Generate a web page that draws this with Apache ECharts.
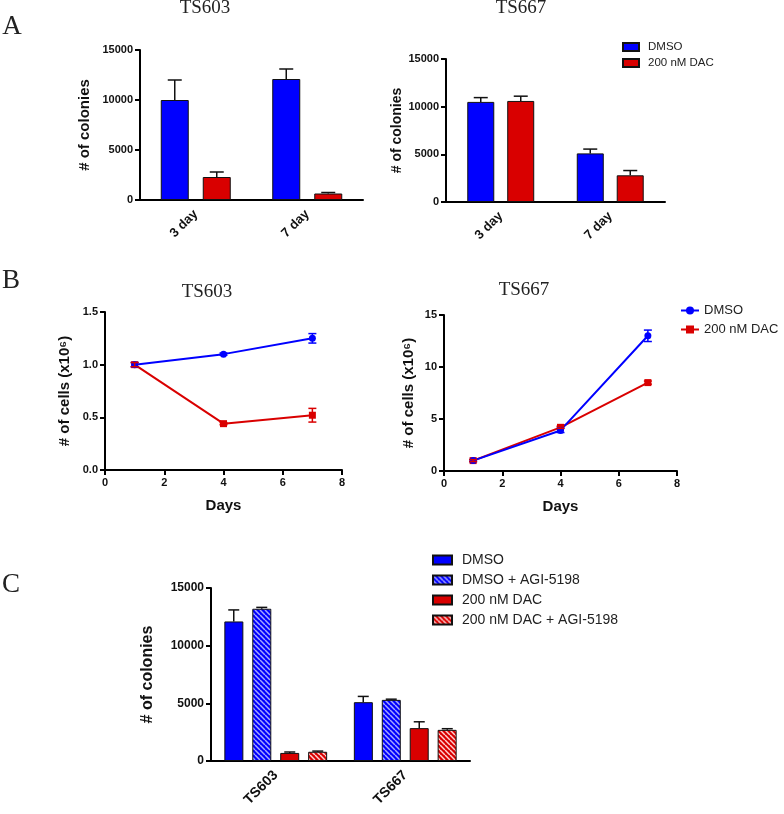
<!DOCTYPE html>
<html lang="en">
<head>
<meta charset="UTF-8">
<title>Colonies and cell counts</title>
<script src="https://cdn.jsdelivr.net/npm/echarts@6/dist/echarts.min.js"></script>
<style>
    body { margin: 0; background: #fff; }
    .panel { position: absolute; left: 0; top: 0; width: 784px; height: 814px; }
</style>
</head>
<body>
<div id="chartA" class="panel"></div>
<div id="chartB" class="panel"></div>
<div id="chartC" class="panel"></div>
<script>
    // ---- data ----
    var daysA = ['3 day', '7 day'];
    var ts603DmsoCol = [10000, 12100];
    var ts603DmsoColErr = [2000, 1000];
    var ts603DacCol = [2300, 650];
    var ts603DacColErr = [500, 100];
    var ts667DmsoCol = [10500, 5100];
    var ts667DmsoColErr = [450, 450];
    var ts667DacCol = [10600, 2800];
    var ts667DacColErr = [500, 500];

    var days = [1, 4, 7];
    var ts603DmsoCells = [1.0, 1.1, 1.25];
    var ts603DmsoCellsErr = [0.02, 0.01, 0.045];
    var ts603DacCells = [1.0, 0.44, 0.52];
    var ts603DacCellsErr = [0.02, 0.01, 0.065];
    var ts667DmsoCells = [1.0, 3.9, 13.0];
    var ts667DmsoCellsErr = [0.1, 0.2, 0.55];
    var ts667DacCells = [1.0, 4.2, 8.5];
    var ts667DacCellsErr = [0.1, 0.1, 0.15];

    var linesC = ['TS603', 'TS667'];
    var dmsoC = [12100, 5100];
    var dmsoCErr = [1000, 500];
    var dmsoAgiC = [13200, 5300];
    var dmsoAgiCErr = [120, 60];
    var dacC = [700, 2850];
    var dacCErr = [80, 550];
    var dacAgiC = [800, 2700];
    var dacAgiCErr = [60, 100];

    var colonyTicks = [0, 15000, 5000];   // min, max, interval

    // ---- styles ----
    var BLUE = '#0000ff';
    var RED = '#d90000';
    var SANS = 'Liberation Sans';
    var SERIF = 'Liberation Serif';

    function hatch(bg, fg) {
        var c = document.createElement('canvas');
        c.width = c.height = 5;
        var g = c.getContext('2d');
        g.fillStyle = bg;
        g.fillRect(0, 0, 5, 5);
        g.strokeStyle = fg;
        g.lineWidth = 1.5;
        for (var k = -1; k <= 1; k++) {
            g.beginPath();
            g.moveTo(k * 5, 0);
            g.lineTo(k * 5 + 5, 5);
            g.stroke();
        }
        return { image: c, repeat: 'repeat' };
    }

    function text(str, x, y, font) {
        return {
            type: 'text', x: x, y: y, silent: true,
            style: { text: str, font: font, fill: '#222', textAlign: 'center', textVerticalAlign: 'middle' }
        };
    }

    function catAxis(gi, data, fs, margin) {
        return {
            type: 'category', gridIndex: gi, data: data,
            axisLine: { lineStyle: { color: '#000', width: 2 } },
            axisTick: { alignWithLabel: true, length: 6, lineStyle: { color: '#000', width: 2 } },
            axisLabel: { rotate: 45, margin: margin, color: '#111', fontFamily: SANS, fontWeight: 'bold', fontSize: fs }
        };
    }

    function valAxis(gi, min, max, step, fs, opts) {
        var a = {
            type: 'value', gridIndex: gi, min: min, max: max, interval: step,
            splitLine: { show: false },
            axisLine: { show: true, onZero: false, lineStyle: { color: '#000', width: 2 } },
            axisTick: { show: true, length: 5, lineStyle: { color: '#000', width: 2 } },
            axisLabel: {
                margin: 7, color: '#111', fontFamily: SANS, fontWeight: 'bold', fontSize: fs,
                formatter: function (v) { return String(v); }
            },
            nameTextStyle: { color: '#111', fontFamily: SANS, fontWeight: 'bold' }
        };
        for (var k in opts) a[k] = opts[k];
        return a;
    }

    function bar(name, gi, data, color, w, gap) {
        return {
            name: name, type: 'bar', xAxisIndex: gi, yAxisIndex: gi, data: data,
            barWidth: w, barGap: gap,
            itemStyle: { color: color, borderColor: '#111', borderWidth: 1 }
        };
    }

    // one-sided (upward) error bars on grouped bars
    function barErr(gi, data, err, offset, half) {
        return {
            type: 'custom', xAxisIndex: gi, yAxisIndex: gi, z: 5, silent: true,
            data: data.map(function (v, i) { return [i, v, err[i]]; }),
            renderItem: function (params, api) {
                var b = api.coord([api.value(0), api.value(1)]);
                var t = api.coord([api.value(0), api.value(1) + api.value(2)]);
                var x = b[0] + offset;
                var st = { stroke: '#111', lineWidth: 1.5 };
                return {
                    type: 'group', children: [
                        { type: 'line', shape: { x1: x, y1: b[1], x2: x, y2: t[1] }, style: st },
                        { type: 'line', shape: { x1: x - half, y1: t[1], x2: x + half, y2: t[1] }, style: st }
                    ]
                };
            }
        };
    }

    // symmetric error bars on line points
    function lineErr(gi, xs, data, err, color) {
        return {
            type: 'custom', xAxisIndex: gi, yAxisIndex: gi, z: 5, silent: true,
            data: data.map(function (v, i) { return [xs[i], v, err[i]]; }),
            renderItem: function (params, api) {
                var lo = api.coord([api.value(0), api.value(1) - api.value(2)]);
                var hi = api.coord([api.value(0), api.value(1) + api.value(2)]);
                var x = lo[0], h = 4;
                var st = { stroke: color, lineWidth: 1.5 };
                return {
                    type: 'group', children: [
                        { type: 'line', shape: { x1: x, y1: lo[1], x2: x, y2: hi[1] }, style: st },
                        { type: 'line', shape: { x1: x - h, y1: lo[1], x2: x + h, y2: lo[1] }, style: st },
                        { type: 'line', shape: { x1: x - h, y1: hi[1], x2: x + h, y2: hi[1] }, style: st }
                    ]
                };
            }
        };
    }

    function line(name, gi, xs, data, color, symbol) {
        return {
            name: name, type: 'line', xAxisIndex: gi, yAxisIndex: gi,
            data: data.map(function (v, i) { return [xs[i], v]; }),
            symbol: symbol, symbolSize: 7, showSymbol: true,
            lineStyle: { color: color, width: 2 },
            itemStyle: { color: color }
        };
    }

    // ---- A: colonies ----
    var a = echarts.init(document.getElementById('chartA'));
    a.setOption({
        animation: false,
        grid: [
            { left: 140, top: 50, width: 223, height: 150 },
            { left: 446, top: 59, width: 219, height: 143 }
        ],
        xAxis: [catAxis(0, daysA, 13, 12), catAxis(1, daysA, 13, 12)],
        yAxis: [
            valAxis(0, colonyTicks[0], colonyTicks[1], colonyTicks[2], 11,
                { name: '# of colonies', nameLocation: 'middle', nameGap: 48, nameTextStyle: { fontSize: 15, fontFamily: SANS, fontWeight: 'bold', color: '#111' } }),
            valAxis(1, colonyTicks[0], colonyTicks[1], colonyTicks[2], 11,
                { name: '# of colonies', nameLocation: 'middle', nameGap: 34, nameTextStyle: { fontSize: 14, fontFamily: SANS, fontWeight: 'bold', color: '#111' } })
        ],
        legend: {
            orient: 'vertical', left: 622, top: 41, padding: 0, itemWidth: 16, itemHeight: 8, itemGap: 4,
            icon: 'rect', data: ['DMSO', '200 nM DAC'],
            textStyle: { fontFamily: SANS, fontSize: 11.5, color: '#222', padding: [0, 0, 0, 4] }
        },
        graphic: [
            text('A', 12, 27, '27px "' + SERIF + '"'),
            text('TS603', 205, 8, '19px "' + SERIF + '"'),
            text('TS667', 521, 8, '19px "' + SERIF + '"')
        ],
        series: [
            bar('DMSO', 0, ts603DmsoCol, BLUE, 28, '50%'),
            bar('200 nM DAC', 0, ts603DacCol, RED, 28, '50%'),
            barErr(0, ts603DmsoCol, ts603DmsoColErr, -21, 7),
            barErr(0, ts603DacCol, ts603DacColErr, 21, 7),
            bar('DMSO', 1, ts667DmsoCol, BLUE, 27, '48%'),
            bar('200 nM DAC', 1, ts667DacCol, RED, 27, '48%'),
            barErr(1, ts667DmsoCol, ts667DmsoColErr, -20, 7),
            barErr(1, ts667DacCol, ts667DacColErr, 20, 7)
        ]
    });

    // ---- B: cell counts ----
    var b = echarts.init(document.getElementById('chartB'));
    var daysAxis = function (gi) {
        return valAxis(gi, 0, 8, 2, 11, {
            name: 'Days', nameLocation: 'middle', nameGap: 28,
            nameTextStyle: { fontSize: 15, fontFamily: SANS, fontWeight: 'bold', color: '#111' }
        });
    };
    b.setOption({
        animation: false,
        grid: [
            { left: 105, top: 312, width: 237, height: 158 },
            { left: 444, top: 315, width: 233, height: 156 }
        ],
        xAxis: [daysAxis(0), daysAxis(1)],
        yAxis: [
            valAxis(0, 0, 1.5, 0.5, 11, {
                name: '# of cells (x10⁶)', nameLocation: 'middle', nameGap: 33,
                axisLabel: { margin: 7, color: '#111', fontFamily: SANS, fontWeight: 'bold', fontSize: 11, formatter: function (v) { return v.toFixed(1); } },
                nameTextStyle: { fontSize: 15, fontFamily: SANS, fontWeight: 'bold', color: '#111' }
            }),
            valAxis(1, 0, 15, 5, 11, {
                name: '# of cells (x10⁶)', nameLocation: 'middle', nameGap: 28,
                nameTextStyle: { fontSize: 15, fontFamily: SANS, fontWeight: 'bold', color: '#111' }
            })
        ],
        legend: {
            orient: 'vertical', left: 680, top: 304, padding: 0, itemWidth: 18, itemHeight: 10, itemGap: 6,
            data: ['DMSO', '200 nM DAC'],
            textStyle: { fontFamily: SANS, fontSize: 13, color: '#222' }
        },
        graphic: [
            text('B', 11, 281, '27px "' + SERIF + '"'),
            text('TS603', 207, 292, '19px "' + SERIF + '"'),
            text('TS667', 524, 290, '19px "' + SERIF + '"')
        ],
        series: [
            line('200 nM DAC', 0, days, ts603DacCells, RED, 'rect'),
            line('DMSO', 0, days, ts603DmsoCells, BLUE, 'circle'),
            lineErr(0, days, ts603DmsoCells, ts603DmsoCellsErr, BLUE),
            lineErr(0, days, ts603DacCells, ts603DacCellsErr, RED),
            line('200 nM DAC', 1, days, ts667DacCells, RED, 'rect'),
            line('DMSO', 1, days, ts667DmsoCells, BLUE, 'circle'),
            lineErr(1, days, ts667DmsoCells, ts667DmsoCellsErr, BLUE),
            lineErr(1, days, ts667DacCells, ts667DacCellsErr, RED)
        ]
    });

    // ---- C: colonies with AGI-5198 ----
    var c = echarts.init(document.getElementById('chartC'));
    c.setOption({
        animation: false,
        grid: { left: 211, top: 588, width: 259, height: 173 },
        xAxis: catAxis(0, linesC, 14, 12),
        yAxis: valAxis(0, colonyTicks[0], colonyTicks[1], colonyTicks[2], 12, {
            name: '# of colonies', nameLocation: 'middle', nameGap: 55,
            nameTextStyle: { fontSize: 16, fontFamily: SANS, fontWeight: 'bold', color: '#111' }
        }),
        legend: {
            orient: 'vertical', left: 432, top: 553, padding: 0, itemWidth: 19, itemHeight: 9, itemGap: 6,
            icon: 'rect', data: ['DMSO', 'DMSO + AGI-5198', '200 nM DAC', '200 nM DAC + AGI-5198'],
            textStyle: { fontFamily: SANS, fontSize: 14, color: '#222', padding: [0, 0, 0, 5] }
        },
        graphic: [text('C', 11, 585, '27px "' + SERIF + '"')],
        series: [
            bar('DMSO', 0, dmsoC, BLUE, 19, '47%'),
            bar('DMSO + AGI-5198', 0, dmsoAgiC, hatch(BLUE, '#a8a8ff'), 19, '47%'),
            bar('200 nM DAC', 0, dacC, RED, 19, '47%'),
            bar('200 nM DAC + AGI-5198', 0, dacAgiC, hatch(RED, '#ffd0d0'), 19, '47%'),
            barErr(0, dmsoC, dmsoCErr, -42, 5.5),
            barErr(0, dmsoAgiC, dmsoAgiCErr, -14, 5.5),
            barErr(0, dacC, dacCErr, 14, 5.5),
            barErr(0, dacAgiC, dacAgiCErr, 42, 5.5)
        ]
    });
</script>
</body>
</html>
